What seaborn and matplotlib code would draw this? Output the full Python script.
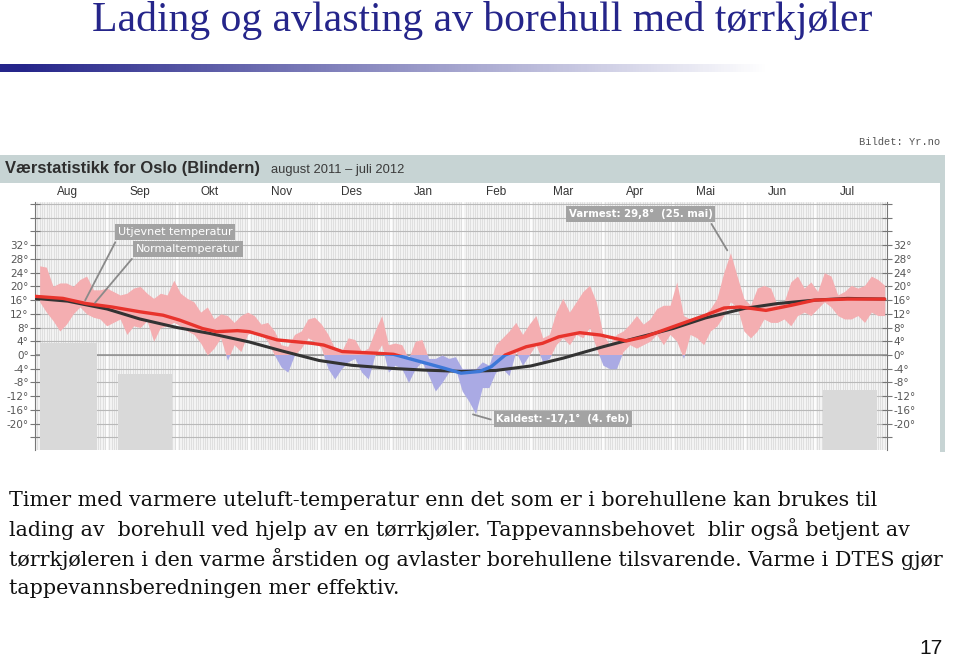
import numpy as np
import pandas as pd
import matplotlib
matplotlib.use("Agg")
import matplotlib.pyplot as plt
import matplotlib.dates as mdates
import matplotlib.transforms as mtransforms
from matplotlib.patches import Rectangle
from matplotlib.colors import LinearSegmentedColormap
import seaborn as sns

W, H = 960, 657

# daglig maks/min, lest av bildet (ca. hver 3. dag), aug 2011 - jul 2012
TMAX = [26, 25.6, 20, 21, 21, 20, 22, 23, 19, 19, 19.5, 18.5, 17.5, 18, 19.5, 20,
        18, 16.5, 18, 17.5, 21.8, 18, 16.5, 15.5, 12.5, 14, 10.5, 12, 11.5, 9.5, 11.5,
        12.5, 11.5, 9, 9.5, 7, 3, 2.5, 6, 7, 10.5, 11, 9, 6, 2, 1, 5,
        4.5, 1, 2, 7, 11.5, 3, 3.5, 3, -1, 4, 4.5, -1, -1, 0, -1, -0.5,
        -4, -4, -4, -2, -3, 3, 5, 7, 9.5, 6, 9, 11.5, 5, 6, 12.5, 16.5,
        12.5, 15.5, 18.5, 20.3, 15.5, 6, 3, 6, 7, 9, 11.5, 9, 10.5, 13.5, 14.5, 14.5,
        21.3, 11.5, 10.5, 10.5, 11.5, 13.5, 16.5, 24, 29.8, 23, 16.5, 14.5, 19.5, 20.3, 19.5, 14.5,
        15.5, 21.3, 23, 19.5, 21.3, 18.5, 24, 23, 17.5, 18.5, 20.3, 19.5, 20.3, 23, 22, 20.3]
TMIN = [15.5, 12.5, 10, 7, 9, 12, 14, 12, 11, 10.5, 8.5, 9.5, 10.5, 6, 8.5, 8,
        10, 4, 8, 8.5, 9.5, 8.5, 7, 6, 3.5, 0, 2, 5, -1.5, 3, 1,
        6, 7, 6, 4, 0, -3.5, -5, 0, 2, 5, 4, 2, -4, -7, -4, -2,
        -1, -5, -7, 0, 3, -5, -3, -4, -8, -4, -2, -6, -10.5, -8, -5, -4,
        -10.5, -13.5, -17.1, -9.5, -9.5, -5, -4, -6, 1, -3, 0, 3, -2, -1, 3, 5,
        3, 6, 5, 8, 2, -3, -4, -4, 1, 3, 2, 3, 4, 6, 3, 6,
        4, -1, 6, 5, 3, 7, 8.5, 11.5, 15.5, 14, 7, 5, 7, 10.5, 9.5, 9.5,
        10.5, 8.5, 11.5, 12.5, 11.5, 13.5, 15.5, 14, 11.5, 10.5, 10.5, 11.5, 9.5, 12.5, 11.5, 11.5]

# normaltemperatur
NORMAL_DATES = ["2011-08-01", "2011-08-15", "2011-09-01", "2011-09-15", "2011-10-01",
                "2011-10-15", "2011-11-01", "2011-11-15", "2011-12-01", "2011-12-15",
                "2012-01-01", "2012-01-15", "2012-02-01", "2012-02-15", "2012-03-01",
                "2012-03-15", "2012-04-01", "2012-04-15", "2012-05-01", "2012-05-15",
                "2012-06-01", "2012-06-15", "2012-07-01", "2012-07-15", "2012-07-31"]
NORMAL = [16.5, 15.7, 13.4, 10.5, 8.0, 6.3, 3.8, 1.2, -1.6, -3.0, -3.9, -4.4, -4.8,
          -4.5, -3.2, -0.9, 2.4, 4.9, 7.7, 10.8, 13.6, 15.0, 16.0, 16.5, 16.3]

# utjevnet temperatur
SMOOTH_DATES = ["2011-08-01", "2011-08-13", "2011-08-23", "2011-09-03", "2011-09-15",
                "2011-09-25", "2011-10-02", "2011-10-12", "2011-10-18", "2011-10-27",
                "2011-11-01", "2011-11-13", "2011-11-28", "2011-12-03", "2011-12-11",
                "2011-12-26", "2012-01-02", "2012-01-16", "2012-01-24", "2012-01-31",
                "2012-02-08", "2012-02-13", "2012-02-19", "2012-02-28", "2012-03-06",
                "2012-03-13", "2012-03-22", "2012-03-31", "2012-04-11", "2012-04-19",
                "2012-05-03", "2012-05-15", "2012-05-23", "2012-05-30", "2012-06-10",
                "2012-06-21", "2012-07-01", "2012-07-15", "2012-07-31"]
SMOOTH = [17.1, 16.5, 15.0, 14.0, 12.6, 11.6, 10.2, 7.7, 6.8, 7.1,
          6.8, 4.4, 3.4, 2.9, 1.0, 0.5, 0.2, -2.4, -3.9, -5.3,
          -4.8, -3.4, 0.0, 2.4, 3.4, 5.3, 6.5, 5.8, 4.1, 5.3,
          8.7, 11.6, 13.7, 14.0, 13.0, 14.5, 16.0, 16.3, 16.3]

MONTHS = ["Aug", "Sep", "Okt", "Nov", "Des", "Jan", "Feb", "Mar", "Apr", "Mai", "Jun", "Jul"]
YLABELS = [32, 28, 24, 20, 16, 12, 8, 4, 0, -4, -8, -12, -16, -20]

TITLE = "Lading og avlasting av borehull med tørrkjøler"
BODY = ["Timer med varmere uteluft-temperatur enn det som er i borehullene kan brukes til",
        "lading av  borehull ved hjelp av en tørrkjøler. Tappevannsbehovet  blir også betjent av",
        "tørrkjøleren i den varme årstiden og avlaster borehullene tilsvarende. Varme i DTES gjør",
        "tappevannsberedningen mer effektiv."]

NAVY = "#25258a"
PINK = "#f4aeb1"
LAVENDER = "#aaaae4"
RED = "#e8332c"
BLUE = "#3d78d8"
DARK = "#333333"
HEADER = "#c7d4d4"


def fx(x):
    return x / W


def fy(y):
    return 1 - y / H


sns.set_style("white")
fig = plt.figure(figsize=(W / 100, H / 100), dpi=100)
fig.patch.set_facecolor("white")

# tittel og gradientlinje
fig.text(fx(482), fy(21), TITLE, ha="center", va="center", fontsize=30,
         family="Liberation Serif", color=NAVY)
gax = fig.add_axes([0, fy(72), 1, 8 / H])
cmap = LinearSegmentedColormap.from_list("g", [NAVY, "#ffffff"], N=256)
gax.imshow(np.linspace(0, 1, 960)[None, :], aspect="auto", cmap=cmap,
           extent=(0, 1, 0, 1), vmin=0.02, vmax=0.8)
gax.axis("off")

fig.text(fx(940), fy(142), "Bildet: Yr.no", ha="right", va="center", fontsize=7.5,
         family="Liberation Mono", color="#555555")

# ramme rundt grafen
fig.add_artist(Rectangle((0, fy(183)), fx(945), 28 / H, transform=fig.transFigure,
                         facecolor=HEADER, edgecolor="none", zorder=1))
fig.add_artist(Rectangle((fx(940), fy(452)), fx(5), 270 / H, transform=fig.transFigure,
                         facecolor=HEADER, edgecolor="none", zorder=1))
fig.text(fx(5), fy(169), "Værstatistikk for Oslo (Blindern)", ha="left", va="center",
         fontsize=12, fontweight="bold", family="Liberation Sans", color="#2e2e2e", zorder=2)
fig.text(fx(271), fy(170), "august 2011 – juli 2012", ha="left", va="center",
         fontsize=9.3, family="Liberation Sans", color="#3a3a3a", zorder=2)

ax = fig.add_axes([fx(35), fy(450), fx(852), 248 / H])
ax.set_facecolor("#f3f3f3")

dates = pd.date_range("2011-08-03", "2012-07-31", periods=len(TMAX))
ndates = pd.to_datetime(NORMAL_DATES)
sdates = pd.to_datetime(SMOOTH_DATES)
tmax = np.array(TMAX)
tmin = np.array(TMIN)

above = mtransforms.blended_transform_factory(ax.transAxes, ax.transData)
clip_hi = Rectangle((0, 0), 1, 100, transform=above)
clip_lo = Rectangle((0, -100), 1, 100, transform=above)

band = ax.fill_between(dates, tmin, tmax, color=PINK, lw=0, zorder=2)
band.set_clip_path(clip_hi)
band2 = ax.fill_between(dates, tmin, tmax, color=LAVENDER, lw=0, zorder=2)
band2.set_clip_path(clip_lo)

sns.lineplot(x=ndates, y=NORMAL, ax=ax, color=DARK, lw=2.2, zorder=4)
sns.lineplot(x=sdates, y=SMOOTH, ax=ax, color=RED, lw=2.4, zorder=5)
ax.lines[-1].set_clip_path(clip_hi)
sns.lineplot(x=sdates, y=SMOOTH, ax=ax, color=BLUE, lw=2.4, zorder=5)
ax.lines[-1].set_clip_path(clip_lo)
for ln in ax.lines:
    ln.set_solid_joinstyle("round")
    ln.set_solid_capstyle("round")

ax.set_xlim(pd.Timestamp("2011-08-01"), pd.Timestamp("2012-08-01"))
ax.set_ylim(-27.7, 44.6)
ax.set_xlabel("")
ax.set_ylabel("")

ax.xaxis.set_major_locator(mdates.MonthLocator())
ax.xaxis.set_minor_locator(mdates.DayLocator())
ax.grid(which="minor", axis="x", color="#dcdcdc", lw=0.6)
ax.grid(which="major", axis="x", color="white", lw=1.3)
ax.tick_params(axis="x", which="both", bottom=False, labelbottom=False)

ax.set_yticks(range(-24, 45, 4))
ax.set_yticklabels([f"{v}°" if v in YLABELS else "" for v in range(-24, 45, 4)])
ax.grid(axis="y", color="#b9b9b9", lw=0.8)
ax.axhline(0, color="#8c8c8c", lw=1.1, zorder=1)
ax.tick_params(axis="y", which="major", left=True, right=True, labelleft=True,
               labelright=True, direction="inout", length=7, width=0.8, color="#777777",
               labelsize=7.5, labelcolor="#555555", pad=1)
ax.set_axisbelow(True)
for side in ["top", "bottom"]:
    ax.spines[side].set_visible(False)
for side in ["left", "right"]:
    ax.spines[side].set_color("#777777")
    ax.spines[side].set_linewidth(0.8)

xtop = mtransforms.blended_transform_factory(ax.transData, ax.transAxes)
mid = pd.date_range("2011-08-01", periods=12, freq="MS") + pd.Timedelta(days=14)
for d, m in zip(mid, MONTHS):
    ax.text(d, 1.04, m, transform=xtop, ha="center", va="center", fontsize=8.5,
            family="Liberation Sans", color="#333333", clip_on=False)

# merkelapper
box = dict(boxstyle="square,pad=0.25", facecolor="#a3a3a3", edgecolor="none")
ax.annotate("Utjevnet temperatur", xy=(pd.Timestamp("2011-08-22"), 15.2),
            xytext=(118, H - 232), textcoords="figure pixels", ha="left", va="center",
            fontsize=8, color="white", bbox=box, zorder=8, annotation_clip=False,
            arrowprops=dict(arrowstyle="-", color="#8a8a8a", lw=1.3, relpos=(0, 0)))
ax.annotate("Normaltemperatur", xy=(pd.Timestamp("2011-08-26"), 14.6),
            xytext=(136, H - 249), textcoords="figure pixels", ha="left", va="center",
            fontsize=8, color="white", bbox=box, zorder=8, annotation_clip=False,
            arrowprops=dict(arrowstyle="-", color="#8a8a8a", lw=1.3, relpos=(0, 0)))
ax.annotate("Varmest: 29,8°  (25. mai)", xy=(pd.Timestamp("2012-05-25"), 29.8),
            xytext=(569, H - 214), textcoords="figure pixels", ha="left", va="center",
            fontsize=7.3, fontweight="bold", color="white", bbox=box, zorder=8,
            annotation_clip=False,
            arrowprops=dict(arrowstyle="-", color="#8a8a8a", lw=1.3, relpos=(0.97, 0)))
ax.annotate("Kaldest: -17,1°  (4. feb)", xy=(pd.Timestamp("2012-02-04"), -17.1),
            xytext=(496, H - 419), textcoords="figure pixels", ha="left", va="center",
            fontsize=7.2, fontweight="bold", color="white", bbox=box, zorder=8,
            annotation_clip=False,
            arrowprops=dict(arrowstyle="-", color="#8a8a8a", lw=1.3, relpos=(0, 0.3)))

# graa felt som dekker grafen
for x0, y0, x1 in [(40, 343, 97), (118, 374, 172), (823, 390, 877)]:
    fig.add_artist(Rectangle((fx(x0), fy(450)), fx(x1 - x0), (450 - y0) / H,
                             transform=fig.transFigure, facecolor="#d9d9d9",
                             edgecolor="none", zorder=6))

for i, line in enumerate(BODY):
    fig.text(fx(9), fy(500 + i * 29.5), line, ha="left", va="center", fontsize=14.9,
             family="DejaVu Serif", color="#111111")

fig.text(fx(931), fy(648), "17", ha="center", va="center", fontsize=15,
         family="Liberation Sans", color="#111111")

fig.savefig("out.png", dpi=100)
